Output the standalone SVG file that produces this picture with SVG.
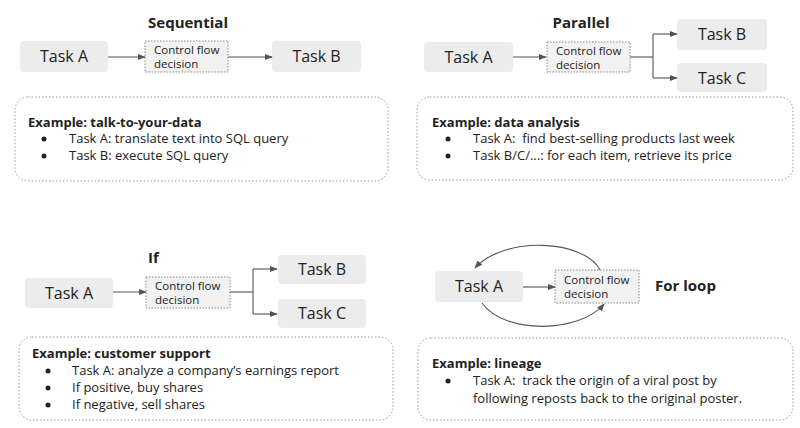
<svg xmlns="http://www.w3.org/2000/svg" width="800" height="428" viewBox="0 0 800 428">
<defs>
<marker id="ah" viewBox="0 0 10 10" refX="9" refY="5" markerWidth="8" markerHeight="8" markerUnits="userSpaceOnUse" orient="auto">
<path d="M0,1 L10,5 L0,9 z" fill="#555"/>
</marker>
</defs>
<style>
text{font-family:"Open Sans","Liberation Sans",sans-serif;fill:#222;white-space:pre}
.task{fill:#ececec;stroke:none}
.tt{font-size:16px;text-anchor:middle}
.cfd{fill:#f2f2f2;stroke:#888;stroke-width:1;stroke-dasharray:1.5 1.5}
.ct{font-size:11.5px}
.ex{fill:#fff;stroke:#999;stroke-width:1;stroke-dasharray:1.5 2}
.title{font-size:15px;font-weight:bold}
.eh{font-size:13px;font-weight:bold}
.et{font-size:13px}
.conn{fill:none;stroke:#555;stroke-width:1.1}
</style>
<rect width="800" height="428" fill="#fff"/>

<g id="sequential">
<text class="title" x="188" y="28" text-anchor="middle">Sequential</text>
<g id="seq-taskA"><rect class="task" x="20" y="41" width="88" height="31" rx="4"/><text class="tt" x="64" y="62">Task A</text></g>
<g id="seq-cfd"><rect class="cfd" x="145" y="41" width="83" height="31"/><text class="ct" x="154" y="54">Control flow</text><text class="ct" x="154" y="68">decision</text></g>
<g id="seq-taskB"><rect class="task" x="272" y="41" width="89" height="31" rx="4"/><text class="tt" x="316.5" y="62">Task B</text></g>
<g id="seq-example"><rect class="ex" x="15" y="97" width="373" height="84" rx="13"/>
<text class="eh" x="28" y="127">Example: talk-to-your-data</text>
<circle cx="44" cy="139" r="2.5" fill="#222"/><text class="et" x="69" y="143">Task A: translate text into SQL query</text>
<circle cx="44" cy="156" r="2.5" fill="#222"/><text class="et" x="69" y="160">Task B: execute SQL query</text></g>
</g>

<g id="parallel">
<text class="title" x="581" y="28" text-anchor="middle">Parallel</text>
<g id="par-taskA"><rect class="task" x="424" y="42" width="89" height="30" rx="4"/><text class="tt" x="468.5" y="63">Task A</text></g>
<g id="par-cfd"><rect class="cfd" x="547" y="42" width="83" height="30"/><text class="ct" x="556" y="55">Control flow</text><text class="ct" x="556" y="69">decision</text></g>
<g id="par-taskB"><rect class="task" x="677" y="19" width="90" height="31" rx="4"/><text class="tt" x="722" y="40">Task B</text></g>
<g id="par-taskC"><rect class="task" x="677" y="63" width="90" height="29" rx="4"/><text class="tt" x="722" y="84">Task C</text></g>
<g id="par-example"><rect class="ex" x="417" y="97" width="376" height="83" rx="13"/>
<text class="eh" x="432" y="127">Example: data analysis</text>
<circle cx="448" cy="139" r="2.5" fill="#222"/><text class="et" x="473" y="143" xml:space="preserve">Task A:  find best-selling products last week</text>
<circle cx="448" cy="156" r="2.5" fill="#222"/><text class="et" x="473" y="160">Task B/C/...: for each item, retrieve its price</text></g>
</g>

<g id="if">
<text class="title" x="148" y="263">If</text>
<g id="if-taskA"><rect class="task" x="25" y="278" width="88" height="30" rx="4"/><text class="tt" x="69" y="299">Task A</text></g>
<g id="if-cfd"><rect class="cfd" x="146" y="277" width="84" height="31"/><text class="ct" x="155" y="290">Control flow</text><text class="ct" x="155" y="304">decision</text></g>
<g id="if-taskB"><rect class="task" x="278" y="255" width="88" height="29" rx="4"/><text class="tt" x="322" y="275">Task B</text></g>
<g id="if-taskC"><rect class="task" x="278" y="299" width="88" height="29" rx="4"/><text class="tt" x="322" y="319">Task C</text></g>
<g id="if-example"><rect class="ex" x="19" y="337" width="374" height="83" rx="13"/>
<text class="eh" x="32" y="358">Example: customer support</text>
<circle cx="48" cy="371" r="2.5" fill="#222"/><text class="et" x="72" y="375">Task A: analyze a company’s earnings report</text>
<circle cx="48" cy="388" r="2.5" fill="#222"/><text class="et" x="72" y="392">If positive, buy shares</text>
<circle cx="48" cy="405" r="2.5" fill="#222"/><text class="et" x="72" y="409">If negative, sell shares</text></g>
</g>

<g id="forloop">
<text class="title" x="655" y="291">For loop</text>
<g id="loop-taskA"><rect class="task" x="435" y="271" width="88" height="31" rx="4"/><text class="tt" x="479" y="292">Task A</text></g>
<g id="loop-cfd"><rect class="cfd" x="555" y="270" width="84" height="33"/><text class="ct" x="564" y="284">Control flow</text><text class="ct" x="564" y="298">decision</text></g>
<g id="loop-example"><rect class="ex" x="418" y="338" width="375" height="82" rx="13"/>
<text class="eh" x="432" y="368">Example: lineage</text>
<circle cx="448" cy="381" r="2.5" fill="#222"/><text class="et" x="473" y="385" xml:space="preserve">Task A:  track the origin of a viral post by</text>
<text class="et" x="473" y="403">following reposts back to the original poster.</text></g>
</g>

<g id="connectors">
<line class="conn" x1="108" y1="57" x2="145" y2="57" marker-end="url(#ah)"/>
<line class="conn" x1="228" y1="57" x2="272" y2="57" marker-end="url(#ah)"/>
<path class="conn" d="M513,57 H546" marker-end="url(#ah)"/>
<path class="conn" d="M630,57 H653"/>
<path class="conn" d="M653,34 V78"/>
<path class="conn" d="M653,34 H677" marker-end="url(#ah)"/>
<path class="conn" d="M653,78 H677" marker-end="url(#ah)"/>
<path class="conn" d="M113,292 H146" marker-end="url(#ah)"/>
<path class="conn" d="M230,292 H253"/>
<path class="conn" d="M253,269 V314"/>
<path class="conn" d="M253,269 H277" marker-end="url(#ah)"/>
<path class="conn" d="M253,314 H277" marker-end="url(#ah)"/>
<path class="conn" d="M523,287 H555" marker-end="url(#ah)"/>
<path class="conn" d="M600,270 C585,240 505,235 475,268" marker-end="url(#ah)"/>
<path class="conn" d="M482,303 C505,335 580,333 604,304" marker-end="url(#ah)"/>
</g>
</svg>
